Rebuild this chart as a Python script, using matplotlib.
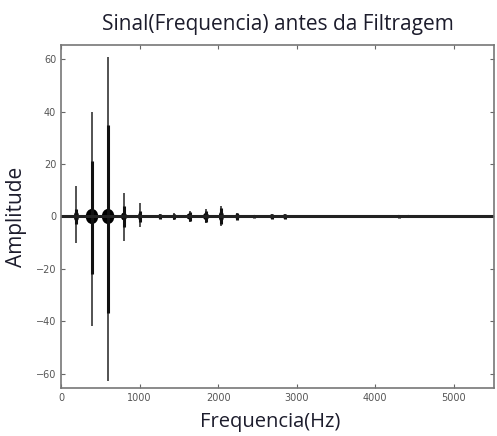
import matplotlib
matplotlib.use("Agg")
import matplotlib.pyplot as plt
from matplotlib.patches import Ellipse
from matplotlib.ticker import MultipleLocator

# harmonic peaks (Hz, amplitude extremes)
freq = [195, 393, 598, 800, 1005, 1260, 1440, 1635, 1845, 2040, 2245, 2460, 2680, 2845, 4300, 4420]
peak_top = [11.5, 40, 61, 9, 5, 1, 1.3, 2, 3, 4, 1.5, 0.6, 1, 1, 0.5, 0.4]
peak_bottom = [-10, -42, -63, -9.5, -4, -1, -1.3, -2, -2.5, -3.8, -1.5, -0.6, -1, -1, -0.5, -0.4]
# thick inner part of each peak
core_top = [3, 21, 35, 4, 2, 0.8, 1, 1.8, 2.2, 3.2, 1.2, 0.5, 0.9, 0.9, 0.4, 0.3]
core_bottom = [-3, -22, -37, -4, -2, -0.8, -1, -1.8, -2, -3, -1.2, -0.5, -0.9, -0.9, -0.4, -0.3]
# dense cluster around each peak (width in Hz, height in amplitude)
blob_w = [64, 160, 160, 76, 50, 64, 64, 76, 76, 64, 64, 50, 64, 64, 50, 40]
blob_h = [3.8, 5.8, 5.8, 3.0, 3.0, 1.5, 1.5, 2.3, 2.7, 3.8, 1.9, 1.2, 1.5, 1.5, 1.2, 1.2]

fig = plt.figure(figsize=(4.97, 4.36), dpi=100)
ax = fig.add_axes([0.123, 0.110, 0.871, 0.787])

ax.vlines(freq, peak_bottom, peak_top, color="#444444", lw=1.3)
ax.vlines(freq, core_bottom, core_top, color="#111111", lw=2.2)
for f, w, h in zip(freq, blob_w, blob_h):
    ax.add_patch(Ellipse((f, 0), w, h, color="black", lw=0))
ax.axhline(0, color="#222222", lw=2.2)

ax.set_xlim(0, 5512)
ax.set_ylim(-65.5, 65.5)
ax.xaxis.set_major_locator(MultipleLocator(1000))
ax.yaxis.set_major_locator(MultipleLocator(20))
ax.tick_params(direction="in", top=True, right=True, length=3, width=0.8,
               labelsize=7, labelcolor="#555555", color="#666666")
for s in ax.spines.values():
    s.set_color("#777777")
    s.set_linewidth(1.2)

ax.set_title("Sinal(Frequencia) antes da Filtragem", fontsize=15,
             family="Open Sans", color="#1c1c2c", pad=11)
ax.set_xlabel("Frequencia(Hz)", fontsize=14.5, family="Open Sans", color="#1c1c2c")
ax.xaxis.set_label_coords(0.484, -0.07)
ax.set_ylabel("Amplitude", fontsize=15, family="Open Sans", color="#1c1c2c", labelpad=6)

fig.savefig("out.png", dpi=100)
